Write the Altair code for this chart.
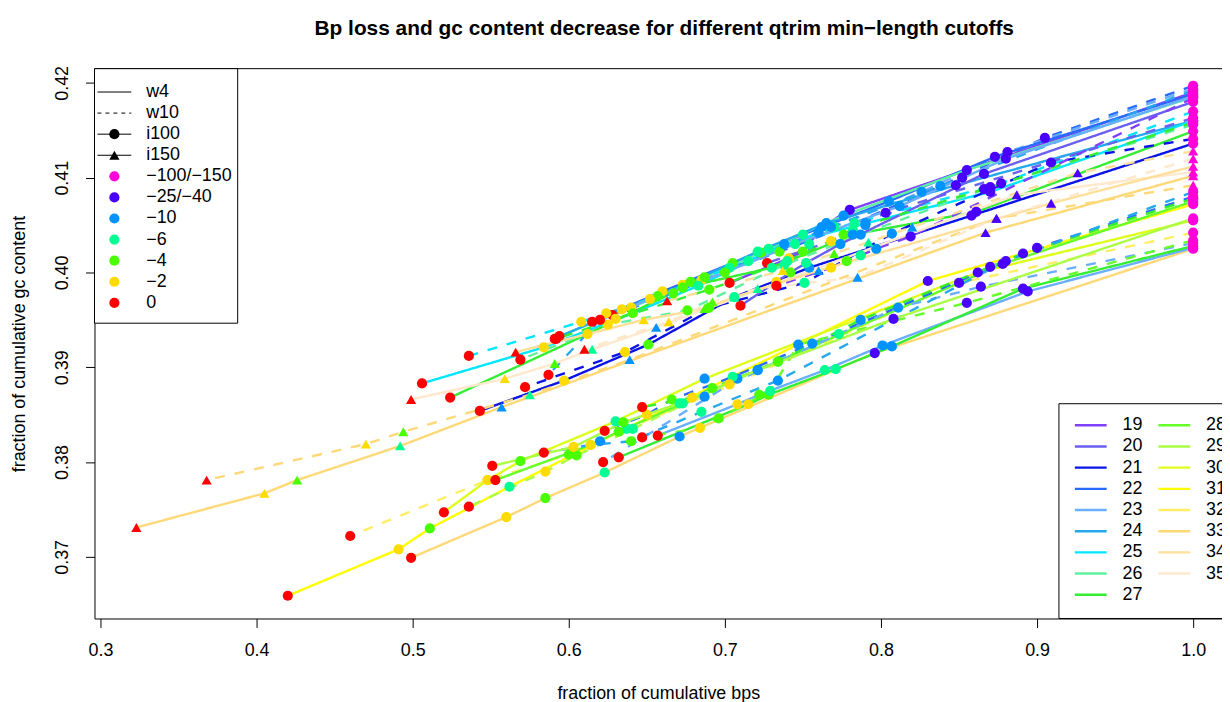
import altair as alt
import pandas as pd

FONT = "Liberation Sans"

QTRIM_LABELS = ["−100/−150", "−25/−40", "−10", "−6", "−4", "−2", "0"]
QTRIM_COLORS = ["#FF00DB", "#4900FF", "#0092FF", "#00FF92", "#49FF00", "#FFDB00", "#FF0000"]

MINLEN_VALUES = [19, 20, 21, 22, 23, 24, 25, 26, 27, 28, 29, 30, 31, 32, 33, 34, 35]
MINLEN_COLORS = ["#8040FF", "#6B5FF0", "#0A14E6", "#2A6AFF", "#6AAEFF", "#25A8EE", "#00E6FF",
                 "#5FF0A0", "#33EE33", "#66FF2A", "#AAFF44", "#DDFF1A", "#FFFF00", "#FFEE66",
                 "#FFD877", "#FFDF99", "#FFE8CC"]

WINDOW_LABELS = ["w4", "w10"]
INSERT_LABELS = ["i100", "i150"]

# one entry per drawn line; points are in qtrim order
# (-100/-150, -25/-40, -10, -6, -4, -2, 0)
LINE_MINLEN = [22, 23, 19, 22, 26, 24, 25, 20, 25, 27, 26, 21, 21, 20, 24, 19, 23, 27,
               33, 33, 35, 34, 35, 34,
               31, 32, 33, 30, 29, 28, 22, 27, 23, 27, 23, 28, 24, 29]
LINE_WINDOW = ["w10", "w10", "w4", "w4", "w4", "w4", "w10", "w10", "w4", "w4", "w10", "w10", "w4", "w4", "w10", "w10", "w4", "w10",
               "w4", "w10", "w4", "w4", "w10", "w10",
               "w4", "w10", "w4", "w4", "w10", "w4", "w10", "w10", "w4", "w4", "w10", "w10", "w10", "w4"]
LINE_INSERT = ["i100"] * 18 + ["i150"] * 6 + ["i100"] * 14

LINE_BPS = [
    [1.0, 0.905, 0.838, 0.783, 0.735, 0.685, 0.640],
    [1.0, 0.881, 0.826, 0.770, 0.723, 0.673, 0.628],
    [1.0, 0.780, 0.762, 0.754, 0.750, 0.741, 0.703],
    [1.0, 0.873, 0.805, 0.750, 0.705, 0.660, 0.615],
    [1.0, 0.855, 0.776, 0.728, 0.687, 0.640, 0.594],
    [1.0, 0.848, 0.765, 0.721, 0.678, 0.634, 0.591],
    [1.0, 0.877, 0.760, 0.703, 0.657, 0.608, 0.536],
    [1.0, 0.803, 0.790, 0.782, 0.776, 0.768, 0.727],
    [1.0, 0.870, 0.738, 0.683, 0.641, 0.584, 0.506],
    [1.0, 0.861, 0.782, 0.730, 0.673, 0.612, 0.524],
    [1.0, 0.870, 0.787, 0.738, 0.676, 0.625, 0.569],
    [1.0, 0.909, 0.807, 0.751, 0.690, 0.636, 0.572],
    [1.0, 0.858, 0.754, 0.706, 0.651, 0.597, 0.543],
    [1.0, 0.866, 0.774, 0.752, 0.742, 0.733, 0.710],
    [1.0, 0.852, 0.768, 0.715, 0.667, 0.624, 0.587],
    [1.0, 0.819, 0.797, 0.787, 0.778, 0.768, 0.733],
    [1.0, 0.880, 0.812, 0.745, 0.700, 0.652, 0.620],
    [1.0, 0.866, 0.790, 0.740, 0.690, 0.630, 0.592],
    [1.0, 0.867, 0.557, 0.492, 0.426, 0.405, 0.323],
    [1.0, 0.874, 0.639, 0.575, 0.494, 0.470, 0.368],
    [1.0, 0.887, 0.656, 0.615, 0.591, 0.559, 0.499],
    [1.0, 0.909, 0.760, 0.706, 0.687, 0.648, 0.566],
    [1.0, 0.874, 0.785, 0.721, 0.692, 0.664, 0.610],
    [1.0, 0.926, 0.820, 0.792, 0.770, 0.737, 0.663],
    [1.0, 0.830, 0.620, 0.562, 0.511, 0.491, 0.420],
    [1.0, 0.850, 0.687, 0.637, 0.600, 0.548, 0.460],
    [1.0, 0.796, 0.671, 0.623, 0.585, 0.560, 0.499],
    [1.0, 0.862, 0.687, 0.630, 0.569, 0.548, 0.520],
    [1.0, 0.870, 0.708, 0.641, 0.605, 0.585, 0.536],
    [1.0, 0.878, 0.721, 0.673, 0.632, 0.614, 0.553],
    [1.0, 0.900, 0.756, 0.705, 0.666, 0.650, 0.623],
    [1.0, 0.891, 0.787, 0.734, 0.692, 0.679, 0.647],
    [1.0, 0.894, 0.801, 0.764, 0.722, 0.708, 0.657],
    [1.0, 0.891, 0.807, 0.771, 0.728, 0.715, 0.632],
    [1.0, 0.864, 0.811, 0.773, 0.734, 0.703, 0.622],
    [1.0, 0.855, 0.747, 0.729, 0.696, 0.684, 0.647],
    [1.0, 0.880, 0.734, 0.685, 0.640, 0.614, 0.584],
    [1.0, 0.808, 0.721, 0.671, 0.635, 0.603, 0.551],
]
LINE_GC = [
    [0.4197, 0.4142, 0.4091, 0.4052, 0.4022, 0.3992, 0.3962],
    [0.4194, 0.4127, 0.4085, 0.4048, 0.4021, 0.3987, 0.3955],
    [0.4190, 0.4066, 0.4048, 0.4030, 0.4022, 0.4015, 0.3989],
    [0.4188, 0.4122, 0.4075, 0.4040, 0.4010, 0.3980, 0.3948],
    [0.4185, 0.4108, 0.4060, 0.4025, 0.3995, 0.3963, 0.3933],
    [0.4160, 0.4092, 0.4052, 0.4022, 0.3990, 0.3961, 0.3930],
    [0.4170, 0.4094, 0.4042, 0.4005, 0.3975, 0.3948, 0.3912],
    [0.4163, 0.4063, 0.4052, 0.4045, 0.4040, 0.4033, 0.4010],
    [0.4160, 0.4085, 0.4030, 0.3986, 0.3957, 0.3921, 0.3883],
    [0.4149, 0.4064, 0.4040, 0.4005, 0.3984, 0.3935, 0.3868],
    [0.4156, 0.4090, 0.4040, 0.4008, 0.3960, 0.3945, 0.3908],
    [0.4141, 0.4116, 0.4041, 0.3989, 0.3963, 0.3916, 0.3879],
    [0.4136, 0.4060, 0.4005, 0.3974, 0.3924, 0.3886, 0.3854],
    [0.4180, 0.4104, 0.4030, 0.4010, 0.4000, 0.3990, 0.3965],
    [0.4192, 0.4100, 0.4048, 0.4012, 0.3978, 0.3957, 0.3892],
    [0.4184, 0.4038, 0.4025, 0.4018, 0.4012, 0.4005, 0.3986],
    [0.4186, 0.4120, 0.4070, 0.4030, 0.4000, 0.3972, 0.3950],
    [0.4158, 0.4088, 0.4050, 0.4012, 0.3982, 0.3951, 0.3930],
    [0.4102, 0.4042, 0.3858, 0.3817, 0.3781, 0.3767, 0.3731],
    [0.4092, 0.4057, 0.3908, 0.3871, 0.3832, 0.3819, 0.3781],
    [0.4106, 0.4082, 0.3942, 0.3919, 0.3904, 0.3888, 0.3866],
    [0.4112, 0.4073, 0.4002, 0.3974, 0.3962, 0.3950, 0.3916],
    [0.4120, 0.4057, 0.3995, 0.3983, 0.3969, 0.3948, 0.3919],
    [0.4128, 0.4105, 0.4048, 0.4032, 0.4020, 0.4002, 0.3970],
    [0.4072, 0.3991, 0.3822, 0.3774, 0.3730, 0.3708, 0.3659],
    [0.4042, 0.3989, 0.3869, 0.3835, 0.3808, 0.3781, 0.3722],
    [0.4025, 0.3915, 0.3827, 0.3789, 0.3762, 0.3742, 0.3699],
    [0.4055, 0.4000, 0.3888, 0.3843, 0.3801, 0.3781, 0.3747],
    [0.4078, 0.4006, 0.3888, 0.3835, 0.3807, 0.3790, 0.3753],
    [0.4075, 0.4009, 0.3897, 0.3862, 0.3832, 0.3818, 0.3781],
    [0.4080, 0.4026, 0.3925, 0.3890, 0.3866, 0.3850, 0.3833],
    [0.4078, 0.4020, 0.3950, 0.3906, 0.3878, 0.3868, 0.3858],
    [0.4026, 0.3980, 0.3923, 0.3897, 0.3871, 0.3861, 0.3828],
    [0.4028, 0.3983, 0.3922, 0.3898, 0.3871, 0.3861, 0.3805],
    [0.4031, 0.3985, 0.3963, 0.3935, 0.3906, 0.3882, 0.3800],
    [0.4034, 0.3968, 0.3924, 0.3875, 0.3846, 0.3836, 0.3826],
    [0.4085, 0.4012, 0.3886, 0.3853, 0.3822, 0.3818, 0.3810],
    [0.4057, 0.3951, 0.3897, 0.3862, 0.3842, 0.3816, 0.3796],
]

X_TICKS = [0.3, 0.4, 0.5, 0.6, 0.7, 0.8, 0.9, 1.0]
Y_TICKS = [0.37, 0.38, 0.39, 0.40, 0.41, 0.42]

TITLE = "Bp loss and gc content decrease for different qtrim min−length cutoffs"
X_TITLE = "fraction of cumulative bps"
Y_TITLE = "fraction of cumulative gc content"

# ---------------------------------------------------------------- table
rows = []
for sid in range(len(LINE_MINLEN)):
    for k, q in enumerate(QTRIM_LABELS):
        rows.append({
            "sid": sid, "minlen": str(LINE_MINLEN[sid]), "window": LINE_WINDOW[sid],
            "insert": LINE_INSERT[sid], "qtrim": q, "order": k,
            "bps": LINE_BPS[sid][k], "gc": LINE_GC[sid][k],
        })
df = pd.DataFrame(rows)

FS = 18
W, H = 1134, 553
xscale = alt.Scale(domain=[0.29618, 1.01847], nice=False, zero=False)
yscale = alt.Scale(domain=[0.3635, 0.4215], nice=False, zero=False)

xaxis = alt.Axis(values=X_TICKS, format=".1f", title=X_TITLE, tickSize=9, labelPadding=14,
                 titlePadding=25, labelFlush=False, labelOverlap=False, grid=False)
yaxis = alt.Axis(values=Y_TICKS, format=".2f", title=Y_TITLE, tickSize=9, labelAngle=270,
                 labelAlign="center", labelBaseline="bottom", labelPadding=14,
                 titlePadding=25, labelFlush=False, labelOverlap=False, grid=False)

X_ENC = alt.X("bps:Q", scale=xscale, axis=xaxis)
Y_ENC = alt.Y("gc:Q", scale=yscale, axis=yaxis)

lines = alt.Chart(df).mark_line(strokeWidth=2.4).encode(
    x=X_ENC,
    y=Y_ENC,
    detail="sid:N",
    order="order:Q",
    stroke=alt.Stroke("minlen:N", scale=alt.Scale(domain=[str(m) for m in MINLEN_VALUES],
                                                  range=MINLEN_COLORS), legend=None),
    strokeDash=alt.StrokeDash("window:N", scale=alt.Scale(domain=WINDOW_LABELS,
                                                          range=[[1, 0], [10, 10]]), legend=None),
)

points = alt.Chart(df).mark_point(filled=True, opacity=1, size=105, strokeOpacity=0).encode(
    x=X_ENC,
    y=Y_ENC,
    fill=alt.Fill("qtrim:N", scale=alt.Scale(domain=QTRIM_LABELS, range=QTRIM_COLORS), legend=None),
    shape=alt.Shape("insert:N", scale=alt.Scale(domain=INSERT_LABELS,
                                                range=["circle", "triangle-up"]), legend=None),
)

one = pd.DataFrame({"a": [0]})


def text_at(x, y, label):
    return alt.Chart(pd.DataFrame({"t": [label]})).mark_text(
        align="left", baseline="middle", font=FONT, fontSize=FS, color="black"
    ).encode(x=alt.value(x), y=alt.value(y), text="t:N")


def seg(x1, x2, y, color="black", width=1.0, dash=None):
    kw = dict(color=color, strokeWidth=width)
    if dash:
        kw["strokeDash"] = dash
    return alt.Chart(one).mark_rule(**kw).encode(x=alt.value(x1), x2=alt.value(x2), y=alt.value(y))


def sym(x, y, shape, color, size=105):
    return alt.Chart(one).mark_point(filled=True, shape=shape, size=size, color=color,
                                     opacity=1, strokeOpacity=0).encode(x=alt.value(x), y=alt.value(y))


def box(x1, x2, y1, y2):
    return alt.Chart(one).mark_rect(fill="white", stroke="black", strokeWidth=1).encode(
        x=alt.value(x1), x2=alt.value(x2), y=alt.value(y1), y2=alt.value(y2))


layers = [lines, points]

# top border of the plot frame
layers.append(seg(0, W, 0))

# left legend (plot-relative pixels)
layers.append(box(0, 144, 0, 256))
row_y = [23.5 + 21.2 * k for k in range(11)]
layers.append(seg(3, 37, row_y[0]))
layers.append(text_at(52, row_y[0], "w4"))
layers.append(seg(3, 37, row_y[1], dash=[4, 4]))
layers.append(text_at(52, row_y[1], "w10"))
layers.append(seg(3, 37, row_y[2]))
layers.append(sym(20, row_y[2], "circle", "black"))
layers.append(text_at(52, row_y[2], "i100"))
layers.append(seg(3, 37, row_y[3]))
layers.append(sym(20, row_y[3], "triangle-up", "black"))
layers.append(text_at(52, row_y[3], "i150"))
for k, (lab, col) in enumerate(zip(QTRIM_LABELS, QTRIM_COLORS)):
    layers.append(sym(20, row_y[4 + k], "circle", col))
    layers.append(text_at(52, row_y[4 + k], lab))

# right legend (partly beyond the right edge, as in the original)
layers.append(box(970, 1150, 337, 553))
for k, (m, col) in enumerate(zip(MINLEN_VALUES, MINLEN_COLORS)):
    c = 0 if k < 9 else 1
    r = k if k < 9 else k - 9
    y = 358.7 + 21.3 * r
    x0 = 986 if c == 0 else 1070
    layers.append(seg(x0, x0 + 32, y, color=col, width=2.4))
    layers.append(text_at(x0 + 48, y, str(m)))

chart = alt.layer(*layers).properties(
    width=W, height=H,
    autosize=alt.AutoSizeParams(type="none"),
    padding={"left": 87, "top": 59, "right": 0, "bottom": 86},
    title=alt.TitleParams(TITLE, anchor="middle", dx=6, offset=27, font=FONT, fontSize=21,
                          fontWeight="bold", color="black"),
).configure_view(stroke=None).configure_axis(
    labelFont=FONT, titleFont=FONT, labelFontSize=FS, titleFontSize=FS, titleFontWeight="normal",
    labelColor="black", titleColor="black", domainColor="black", tickColor="black",
    domainWidth=1, tickWidth=1,
)

chart.save("out.html", embed_options={"renderer": "svg", "actions": False})
